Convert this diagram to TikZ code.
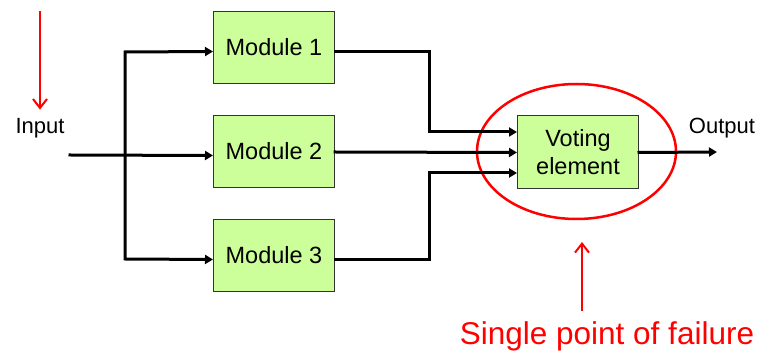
\documentclass[tikz,border=0pt]{standalone}
\usepackage{fontspec}
\setmainfont{Liberation Sans}
\usetikzlibrary{arrows.meta,shapes.geometric,calc}
\definecolor{boxgreen}{HTML}{CCFF99}
\definecolor{boxline}{HTML}{333333}
\definecolor{alarm}{HTML}{FF0000}
\begin{document}
\begin{tikzpicture}[x=1pt,y=-1pt,
  module/.style={draw=boxline,line width=1pt,fill=boxgreen,minimum width=121pt,minimum height=72pt,inner sep=0pt,anchor=north west,font=\fontsize{23.5}{28}\selectfont,align=center},
  wire/.style={line width=3pt,line join=miter,line cap=rect},
  arr/.style={wire,-{Triangle[length=8pt,width=9pt]}},
  arrboth/.style={wire,{Triangle[length=8pt,width=9pt]}-{Triangle[length=8pt,width=9pt]}},
  redarr/.style={draw=alarm,line width=2pt,-{Straight Barb[length=9pt,width=14pt,line width=2pt]}},
  lbl/.style={font=\fontsize{22}{26}\selectfont}]
\useasboundingbox (0,0) rectangle (761,355);
\node[module] (m1) at (213,11) {Module 1};
\node[module] (m2) at (213,115) {Module 2};
\node[module] (m3) at (213,219) {Module 3};
\node[module,minimum height=73pt] (v) at (517,115) {Voting\\element};
\node[lbl] (in) at (40,128) {Input};
\node[lbl] (out) at (722,128) {Output};
\node[font=\fontsize{31.5}{36}\selectfont,text=alarm] (fail) at (607,336) {Single point of failure};
\node[draw=alarm,line width=2.5pt,ellipse,minimum width=199pt,minimum height=135pt,inner sep=0pt] (spof) at (576.5,151.5) {};
\coordinate (instart) at (70,155);
\coordinate (b1) at (125,52);
\coordinate (b3) at (125,259);
\coordinate (outend) at (717,152);
\coordinate (topred) at (40,11);
\coordinate (failstart) at (582,311);
\coordinate (failend) at (582,242);
% input
\draw[arr] (instart) -- ($(m2.west)+(0,4)$);
\draw[arrboth] ($(m1.west)+(0,4)$) -- (b1) -- (b3) -- ($(m3.west)+(0,4)$);
% outputs
\draw[arr] ($(m1.east)+(0,4)$) -| ($(v.west)+(-88,-20)$) -- ($(v.west)+(0,-20)$);
\draw[arr] ($(m2.east)+(0,0.5)$) -- ($(v.west)+(0,0.5)$);
\draw[arr] ($(m3.east)+(0,4)$) -| ($(v.west)+(-88,21)$) -- ($(v.west)+(0,21)$);
\draw[arr] ($(v.east)+(0,0.5)$) -- (outend);
% red arrows
\draw[redarr] (topred) -- ($(in.north)+(0,-5)$);
\draw[redarr] (failstart) -- (failend);
\end{tikzpicture}
\end{document}
